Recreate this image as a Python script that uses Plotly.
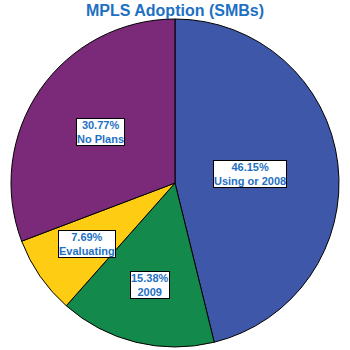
import math
import plotly.graph_objects as go

labels = ["Using or 2008", "2009", "Evaluating", "No Plans"]
values = [46.15, 15.38, 7.69, 30.77]
colors = ["#3F57A8", "#138A4B", "#FFCC14", "#7A2A78"]
label_radius = [0.46, 0.64, 0.65, 0.55]

W, H = 350, 350
ml, mr, mt, mb = 11, 11, 19, 3

fig = go.Figure(go.Pie(
    labels=labels, values=values, sort=False, direction="clockwise", rotation=0,
    marker=dict(colors=colors, line=dict(color="black", width=1)),
    textinfo="none", hoverinfo="label+percent", showlegend=False,
    domain=dict(x=[0, 1], y=[0, 1]),
))

total = sum(values)
cum = 0.0
anns = []
pw = W - ml - mr
ph = H - mt - mb
for lab, v, rf in zip(labels, values, label_radius):
    mid = (cum + v / 2) / total * 2 * math.pi
    cum += v
    x = 0.5 + rf * 0.5 * math.sin(mid) * min(pw, ph) / pw
    y = 0.5 + rf * 0.5 * math.cos(mid) * min(pw, ph) / ph
    anns.append(dict(
        x=x, y=y, xref="paper", yref="paper", xanchor="center", yanchor="middle",
        showarrow=False, text=f"{v:.2f}%<br>{lab}", align="center",
        font=dict(family="Liberation Sans, Arial", size=11, color="#1E70C2", weight="bold"),
        bgcolor="white", bordercolor="black", borderwidth=1, borderpad=0,
    ))

fig.update_layout(
    width=W, height=H, margin=dict(l=ml, r=mr, t=mt, b=mb),
    paper_bgcolor="white", plot_bgcolor="white",
    title=dict(text="<b>MPLS Adoption (SMBs)</b>", x=0.5, xanchor="center",
               yref="container", y=0.986, yanchor="top",
               font=dict(family="Liberation Sans, Arial", size=16, color="#1E70C2")),
    annotations=anns,
)
fig.write_html("out.html")
